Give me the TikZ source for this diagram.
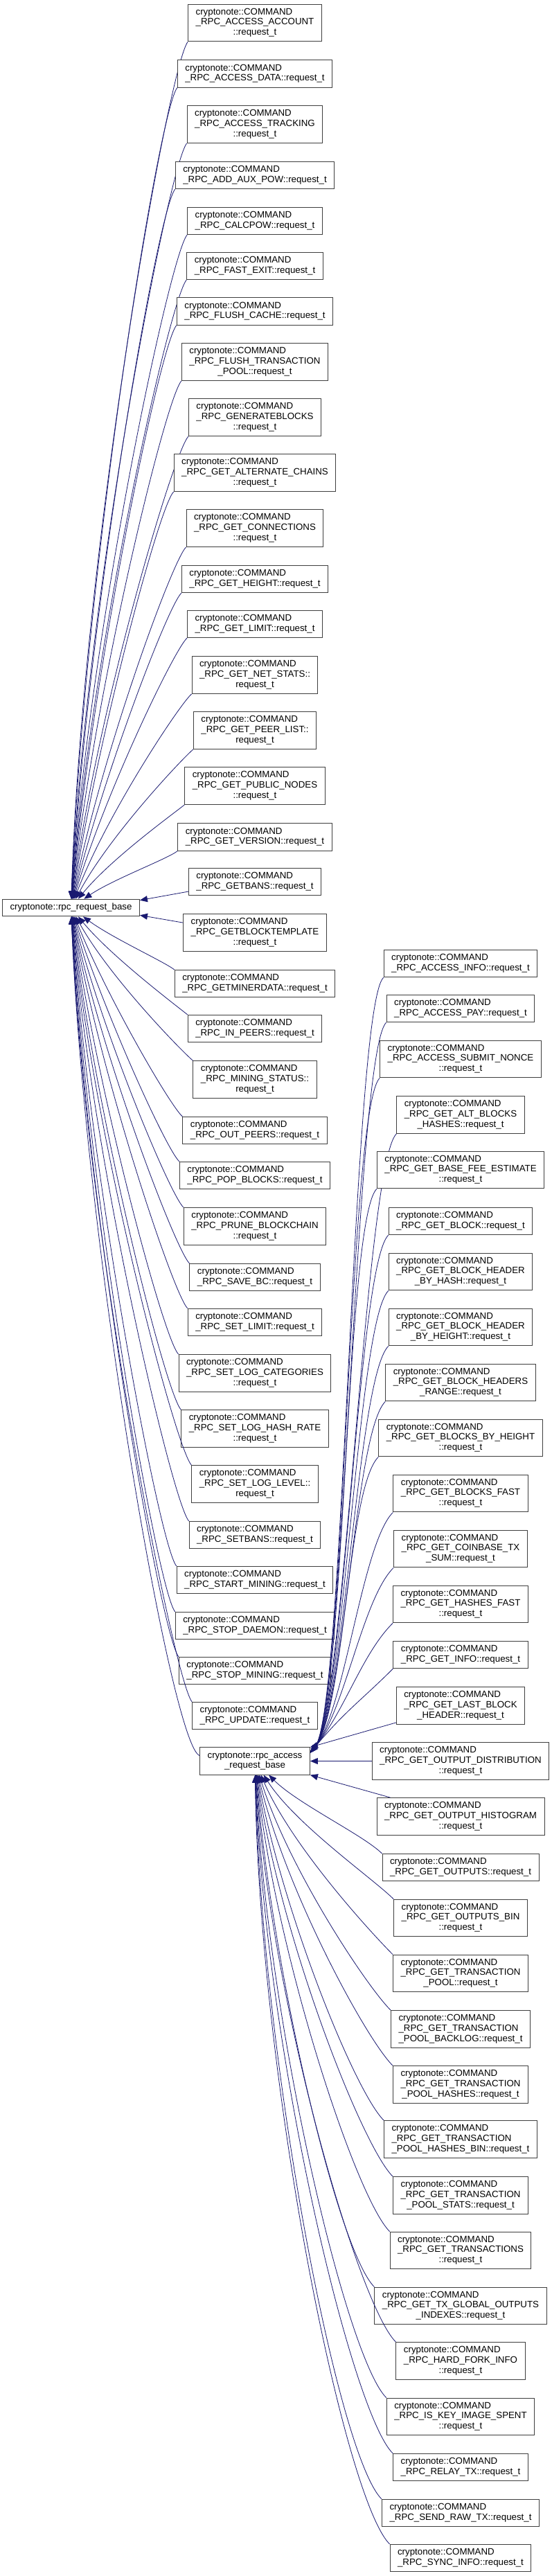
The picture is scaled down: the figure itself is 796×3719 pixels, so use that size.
\documentclass[tikz,border=0pt]{standalone}
\usepackage{fontspec}
\setmainfont{Liberation Sans}
\usetikzlibrary{arrows.meta, calc}
\definecolor{edgeBlue}{HTML}{191970}
\definecolor{boxLine}{HTML}{3F3F3F}
\newcommand{\lastline}[1]{\multicolumn{1}{@{}c@{}}{#1}}
\newcommand{\lbl}[1]{\begin{tabular}{@{}l@{}}#1\end{tabular}}
\newcommand{\cmd}{cryptonote::COMMAND}

\begin{document}
\begin{tikzpicture}[x=1pt, y=-1pt,
        cls/.style={rectangle, draw=boxLine, fill=white, line width=1pt, inner xsep=11pt, inner ysep=5pt, font=\fontsize{13.3}{14.6}\selectfont},
        inh/.style={draw=edgeBlue, line width=0.8pt, -{Triangle[length=11pt,width=9pt]}}
      ]
      \useasboundingbox (0,0) rectangle (796,3719);
      \node[cls] (base) at (102.5,1310.5) {\lbl{cryptonote::rpc\_request\_base}};
      \node[cls] (access) at (368,2542.5) {\lbl{cryptonote::rpc\_access\\\lastline{\_request\_base}}};
      \foreach \n/\y/\t in {accessAccount/33/{\_RPC\_ACCESS\_ACCOUNT\\\lastline{::request\_t}},
          accessData/106.5/{\_RPC\_ACCESS\_DATA::request\_t},
          accessTracking/179.5/{\_RPC\_ACCESS\_TRACKING\\\lastline{::request\_t}},
          addAuxPow/253/{\_RPC\_ADD\_AUX\_POW::request\_t},
          calcPow/319/{\_RPC\_CALCPOW::request\_t},
          fastExit/384/{\_RPC\_FAST\_EXIT::request\_t},
          flushCache/449.5/{\_RPC\_FLUSH\_CACHE::request\_t},
          flushPool/522.5/{\_RPC\_FLUSH\_TRANSACTION\\\lastline{\_POOL::request\_t}},
          generateBlocks/602.5/{\_RPC\_GENERATEBLOCKS\\\lastline{::request\_t}},
          altChains/682.5/{\_RPC\_GET\_ALTERNATE\_CHAINS\\\lastline{::request\_t}},
          connections/762.5/{\_RPC\_GET\_CONNECTIONS\\\lastline{::request\_t}},
          getHeight/836/{\_RPC\_GET\_HEIGHT::request\_t},
          getLimit/901/{\_RPC\_GET\_LIMIT::request\_t},
          netStats/974.5/{\_RPC\_GET\_NET\_STATS::\\\lastline{request\_t}},
          peerList/1054.5/{\_RPC\_GET\_PEER\_LIST::\\\lastline{request\_t}},
          publicNodes/1134.5/{\_RPC\_GET\_PUBLIC\_NODES\\\lastline{::request\_t}},
          getVersion/1208.5/{\_RPC\_GET\_VERSION::request\_t}} {
         \node[cls] (\n) at (368,\y) {\lbl{\cmd\\\t}};
         \pgfmathsetmacro\dist{1310.5-\y}
         \pgfmathsetmacro\cpx{64-0.0375*\dist}
         \pgfmathsetmacro\cpy{0.4*\dist}
         \pgfmathsetmacro\bx{15+0.01*\dist}
         \pgfmathsetmacro\by{10+0.02*\dist}
         \draw[inh] (\n.south west) .. controls ($(\n.south west)+(-\bx,\by)$) and ($(base)+(\cpx,-\cpy)$) .. (base);
      }
      \node[cls] (getBans) at (368,1273) {\lbl{\cmd\\\_RPC\_GETBANS::request\_t}};
      \node[cls] (blockTemplate) at (368,1346.5) {\lbl{\cmd\\\_RPC\_GETBLOCKTEMPLATE\\\lastline{::request\_t}}};
      \draw[inh] ([yshift=6pt]getBans.south west) -- ([yshift=-2pt]base.north east);
      \draw[inh] ([yshift=-13pt]blockTemplate.north west) -- ([yshift=2pt]base.south east);
      \foreach \n/\y/\t in {minerData/1420/{\_RPC\_GETMINERDATA::request\_t},
          inPeers/1485/{\_RPC\_IN\_PEERS::request\_t},
          miningStatus/1558.5/{\_RPC\_MINING\_STATUS::\\\lastline{request\_t}},
          outPeers/1632/{\_RPC\_OUT\_PEERS::request\_t},
          popBlocks/1697/{\_RPC\_POP\_BLOCKS::request\_t},
          pruneChain/1770.5/{\_RPC\_PRUNE\_BLOCKCHAIN\\\lastline{::request\_t}},
          saveBc/1844/{\_RPC\_SAVE\_BC::request\_t},
          setLimit/1909/{\_RPC\_SET\_LIMIT::request\_t},
          logCategories/1982.5/{\_RPC\_SET\_LOG\_CATEGORIES\\\lastline{::request\_t}},
          logHashRate/2062.5/{\_RPC\_SET\_LOG\_HASH\_RATE\\\lastline{::request\_t}},
          logLevel/2142.5/{\_RPC\_SET\_LOG\_LEVEL::\\\lastline{request\_t}},
          setBans/2216/{\_RPC\_SETBANS::request\_t},
          startMining/2281/{\_RPC\_START\_MINING::request\_t},
          stopDaemon/2347/{\_RPC\_STOP\_DAEMON::request\_t},
          stopMining/2412/{\_RPC\_STOP\_MINING::request\_t},
          rpcUpdate/2477/{\_RPC\_UPDATE::request\_t}} {
         \node[cls] (\n) at (368,\y) {\lbl{\cmd\\\t}};
         \pgfmathsetmacro\dist{\y-1310.5}
         \pgfmathsetmacro\cpx{64-0.0375*\dist}
         \pgfmathsetmacro\cpy{0.4*\dist}
         \pgfmathsetmacro\bx{15+0.01*\dist}
         \pgfmathsetmacro\by{10+0.02*\dist}
         \draw[inh] (\n.north west) .. controls ($(\n.north west)+(-\bx,-\by)$) and ($(base)+(\cpx,\cpy)$) .. (base);
      }
      \draw[inh] ([yshift=8pt]access.west) .. controls ($(access.west)+(-40,-22)$) and ($(base)+(20,490)$) .. (base);
      \foreach \n/\y/\t in {accessInfo/1391/{\_RPC\_ACCESS\_INFO::request\_t},
          accessPay/1456/{\_RPC\_ACCESS\_PAY::request\_t},
          submitNonce/1529/{\_RPC\_ACCESS\_SUBMIT\_NONCE\\\lastline{::request\_t}},
          altBlocks/1609.5/{\_RPC\_GET\_ALT\_BLOCKS\\\lastline{\_HASHES::request\_t}},
          baseFee/1689/{\_RPC\_GET\_BASE\_FEE\_ESTIMATE\\\lastline{::request\_t}},
          getBlock/1763/{\_RPC\_GET\_BLOCK::request\_t},
          headerByHash/1836/{\_RPC\_GET\_BLOCK\_HEADER\\\lastline{\_BY\_HASH::request\_t}},
          headerByHeight/1916/{\_RPC\_GET\_BLOCK\_HEADER\\\lastline{\_BY\_HEIGHT::request\_t}},
          headersRange/1996/{\_RPC\_GET\_BLOCK\_HEADERS\\\lastline{\_RANGE::request\_t}},
          blocksByHeight/2076/{\_RPC\_GET\_BLOCKS\_BY\_HEIGHT\\\lastline{::request\_t}},
          blocksFast/2156/{\_RPC\_GET\_BLOCKS\_FAST\\\lastline{::request\_t}},
          coinbaseSum/2236/{\_RPC\_GET\_COINBASE\_TX\\\lastline{\_SUM::request\_t}},
          hashesFast/2316/{\_RPC\_GET\_HASHES\_FAST\\\lastline{::request\_t}},
          getInfo/2389/{\_RPC\_GET\_INFO::request\_t}} {
         \node[cls] (\n) at (665,\y) {\lbl{\cmd\\\t}};
         \draw[inh] (\n.south west) .. controls ($(\n.south west)+(-45,45)$) and ($(access.north east)+(50,-52)$) .. ($(access.north east)+(0,8)$);
      }
      \node[cls] (lastHeader) at (665,2462.5) {\lbl{\cmd\\\_RPC\_GET\_LAST\_BLOCK\\\lastline{\_HEADER::request\_t}}};
      \node[cls] (outputDist) at (665,2542.5) {\lbl{\cmd\\\_RPC\_GET\_OUTPUT\_DISTRIBUTION\\\lastline{::request\_t}}};
      \node[cls] (outputHist) at (665,2622.5) {\lbl{\cmd\\\_RPC\_GET\_OUTPUT\_HISTOGRAM\\\lastline{::request\_t}}};
      \draw[inh] ([yshift=3pt]lastHeader.south west) -- (access.north east);
      \draw[inh] (outputDist) -- (access);
      \draw[inh] ([xshift=20pt]outputHist.north west) -- (access.south east);
      \foreach \n/\y/\t in {getOutputs/2696/{\_RPC\_GET\_OUTPUTS::request\_t},
          outputsBin/2769/{\_RPC\_GET\_OUTPUTS\_BIN\\\lastline{::request\_t}},
          txPool/2849/{\_RPC\_GET\_TRANSACTION\\\lastline{\_POOL::request\_t}},
          poolBacklog/2929.5/{\_RPC\_GET\_TRANSACTION\\\lastline{\_POOL\_BACKLOG::request\_t}},
          poolHashes/3009.5/{\_RPC\_GET\_TRANSACTION\\\lastline{\_POOL\_HASHES::request\_t}},
          poolHashesBin/3088.5/{\_RPC\_GET\_TRANSACTION\\\lastline{\_POOL\_HASHES\_BIN::request\_t}},
          poolStats/3169.5/{\_RPC\_GET\_TRANSACTION\\\lastline{\_POOL\_STATS::request\_t}},
          transactions/3249/{\_RPC\_GET\_TRANSACTIONS\\\lastline{::request\_t}},
          globalIndexes/3329/{\_RPC\_GET\_TX\_GLOBAL\_OUTPUTS\\\lastline{\_INDEXES::request\_t}},
          hardFork/3408.5/{\_RPC\_HARD\_FORK\_INFO\\\lastline{::request\_t}},
          keyImage/3489/{\_RPC\_IS\_KEY\_IMAGE\_SPENT\\\lastline{::request\_t}},
          relayTx/3562/{\_RPC\_RELAY\_TX::request\_t},
          sendRawTx/3628/{\_RPC\_SEND\_RAW\_TX::request\_t},
          syncInfo/3693/{\_RPC\_SYNC\_INFO::request\_t}} {
         \node[cls] (\n) at (665,\y) {\lbl{\cmd\\\t}};
         \pgfmathsetmacro\dist{\y-2542.5}
         \pgfmathsetmacro\cpx{70-0.055*\dist}
         \pgfmathsetmacro\cpy{0.4*\dist}
         \pgfmathsetmacro\bx{20+0.04*\dist}
         \draw[inh] (\n.north west) .. controls ($(\n.north west)+(-\bx,-\bx)$) and ($(access)+(\cpx,\cpy)$) .. (access);
      }
    \end{tikzpicture}
\end{document}
